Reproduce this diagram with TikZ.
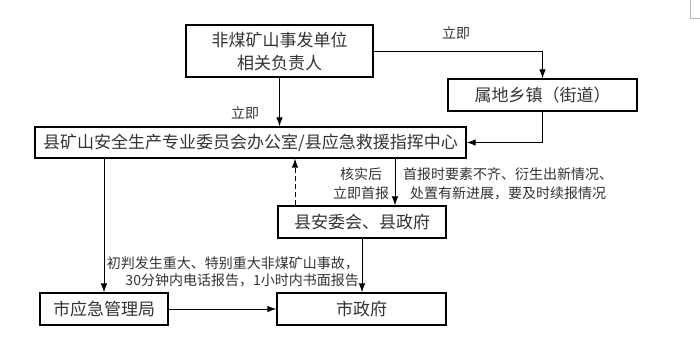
\documentclass[tikz,border=0pt]{standalone}
\usepackage{fontspec}
\setmainfont{Noto Sans CJK SC}
\usetikzlibrary{arrows.meta}
\begin{document}
\begin{tikzpicture}[x=1pt,y=-1pt,
  box/.style={draw, line width=1.2pt, inner sep=0pt, align=center, text=black!80, font=\fontsize{17}{23}\selectfont},
  lab/.style={inner sep=0pt, align=center, text=black!80, font=\fontsize{14}{19}\selectfont},
  arr/.style={line width=0.9pt, -{Latex[length=9pt,width=6.5pt]}}]
\useasboundingbox (0,0) rectangle (700,342);
\draw[gray!55, line width=0.8pt] (690,0) -- (690,18) -- (700,18);
% boxes
\node[box, minimum width=187pt, minimum height=52pt] (n1) at (279.5,51) {非煤矿山事发单位\\相关负责人};
\node[box, minimum width=189pt, minimum height=32pt] (n2) at (542.5,95) {属地乡镇（街道）};
\node[box, minimum width=431pt, minimum height=31pt] (n3) at (250.5,142.5) {县矿山安全生产专业委员会办公室/县应急救援指挥中心};
\node[box, minimum width=168pt, minimum height=32pt] (n4) at (362,222) {县安委会、县政府};
\node[box, minimum width=128pt, minimum height=32pt] (n5) at (104,309) {市应急管理局};
\node[box, minimum width=169pt, minimum height=32pt] (n6) at (361.5,309) {市政府};
% labels
\node[lab] (l1) at (456,33) {立即};
\node[lab] (l2) at (245,113) {立即};
\node[lab] (l3) at (361,183.5) {核实后\\立即首报};
\node[lab] (l4) at (508,183.5) {首报时要素不齐、衍生出新情况、\\处置有新进展，要及时续报情况};
\node[lab, align=right, anchor=east, font=\fontsize{14}{17}\selectfont] (l5) at (359,271.5) {初判发生重大、特别重大非煤矿山事故，\\30分钟内电话报告，1小时内书面报告};
% connectors
\draw[arr] (n1.east) -| (n2.north);
\draw[arr] (n1.south) -- (n1.south |- n3.north);
\draw[arr] (n2.south) |- (n3.east);
\draw[arr] (n5.north |- n3.south) -- (n5.north);
\draw[arr, dash pattern=on 5pt off 3pt] ([xshift=-67pt]n4.north) -- ([xshift=-67pt]n4.north |- n3.south);
\draw[arr] ([xshift=33pt]n4.north |- n3.south) -- ([xshift=33pt]n4.north);
\draw[arr] (n4.south) -- (n4.south |- n6.north);
\draw[arr] (n5.east) -- (n6.west);
\end{tikzpicture}
\end{document}
